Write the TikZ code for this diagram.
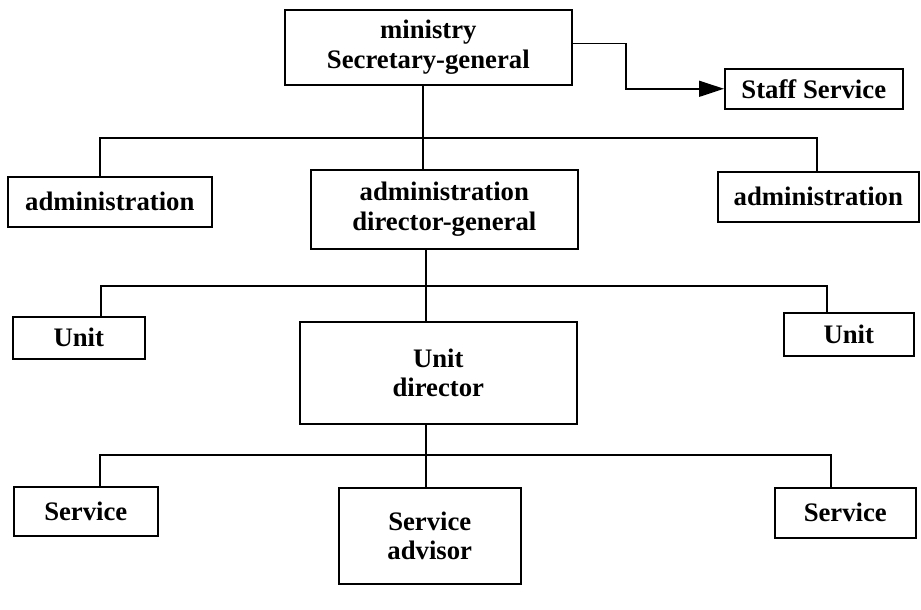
\documentclass[tikz,border=0pt]{standalone}
\usepackage{fontspec}
\setmainfont{Liberation Serif}
\usetikzlibrary{arrows.meta}

\tikzset{
    box/.style={draw, line width=1.1pt, align=center, inner sep=0pt, anchor=north west,
        font=\fontsize{19}{21}\selectfont\bfseries},
    link/.style={line width=1.1pt},
}

\begin{document}
\begin{tikzpicture}[x=0.025cm, y=-0.025cm]
            \useasboundingbox (0,0) rectangle (921,610);

            % level 0
            \node[box, minimum width=7.175cm, minimum height=1.875cm] (ministry) at (284,9) {ministry\\Secretary-general};
            \node[box, minimum width=4.45cm, minimum height=1cm] (staff) at (724,68) {Staff Service};

            % level 1
            \node[box, minimum width=5.1cm, minimum height=1.25cm] (admL) at (7,176) {administration};
            \node[box, minimum width=6.675cm, minimum height=1.975cm] (admC) at (310,169) {administration\\director-general};
            \node[box, minimum width=5.025cm, minimum height=1.25cm] (admR) at (717,171) {administration};

            % level 2
            \node[box, minimum width=3.3cm, minimum height=1.05cm] (unitL) at (12,316) {Unit};
            \node[box, minimum width=6.925cm, minimum height=2.55cm] (unitC) at (299,321) {Unit\\director};
            \node[box, minimum width=3.25cm, minimum height=1.075cm] (unitR) at (783,312) {Unit};

            % level 3
            \node[box, minimum width=3.6cm, minimum height=1.225cm] (servL) at (13,486) {Service};
            \node[box, minimum width=4.55cm, minimum height=2.4cm] (servC) at (338,487) {Service\\advisor};
            \node[box, minimum width=3.525cm, minimum height=1.25cm] (servR) at (774,487) {Service};

            % bus lines
            \coordinate (elbow) at (626,65);
            \coordinate (b1l) at (100,138);
            \coordinate (b1c) at (423,138);
            \coordinate (b1r) at (817,138);
            \coordinate (b2l) at (101,286);
            \coordinate (b2c) at (426,286);
            \coordinate (b2r) at (827,286);
            \coordinate (b3l) at (100,455);
            \coordinate (b3c) at (426,455);
            \coordinate (b3r) at (831,455);

            \draw[link, -{Triangle[length=0.625cm, width=0.4cm]}] ([yshift=0.09cm]ministry.east) -| (elbow) |- (staff.west);

            \draw[link] (b1c |- ministry.south) -- (b1c |- admC.north);
            \draw[link] (b1l |- admL.north) -- (b1l) -- (b1r) -- (b1r |- admR.north);

            \draw[link] (b2c |- admC.south) -- (b2c |- unitC.north);
            \draw[link] (b2l |- unitL.north) -- (b2l) -- (b2r) -- (b2r |- unitR.north);

            \draw[link] (b3c |- unitC.south) -- (b3c |- servC.north);
            \draw[link] (b3l |- servL.north) -- (b3l) -- (b3r) -- (b3r |- servR.north);
        \end{tikzpicture}
\end{document}
